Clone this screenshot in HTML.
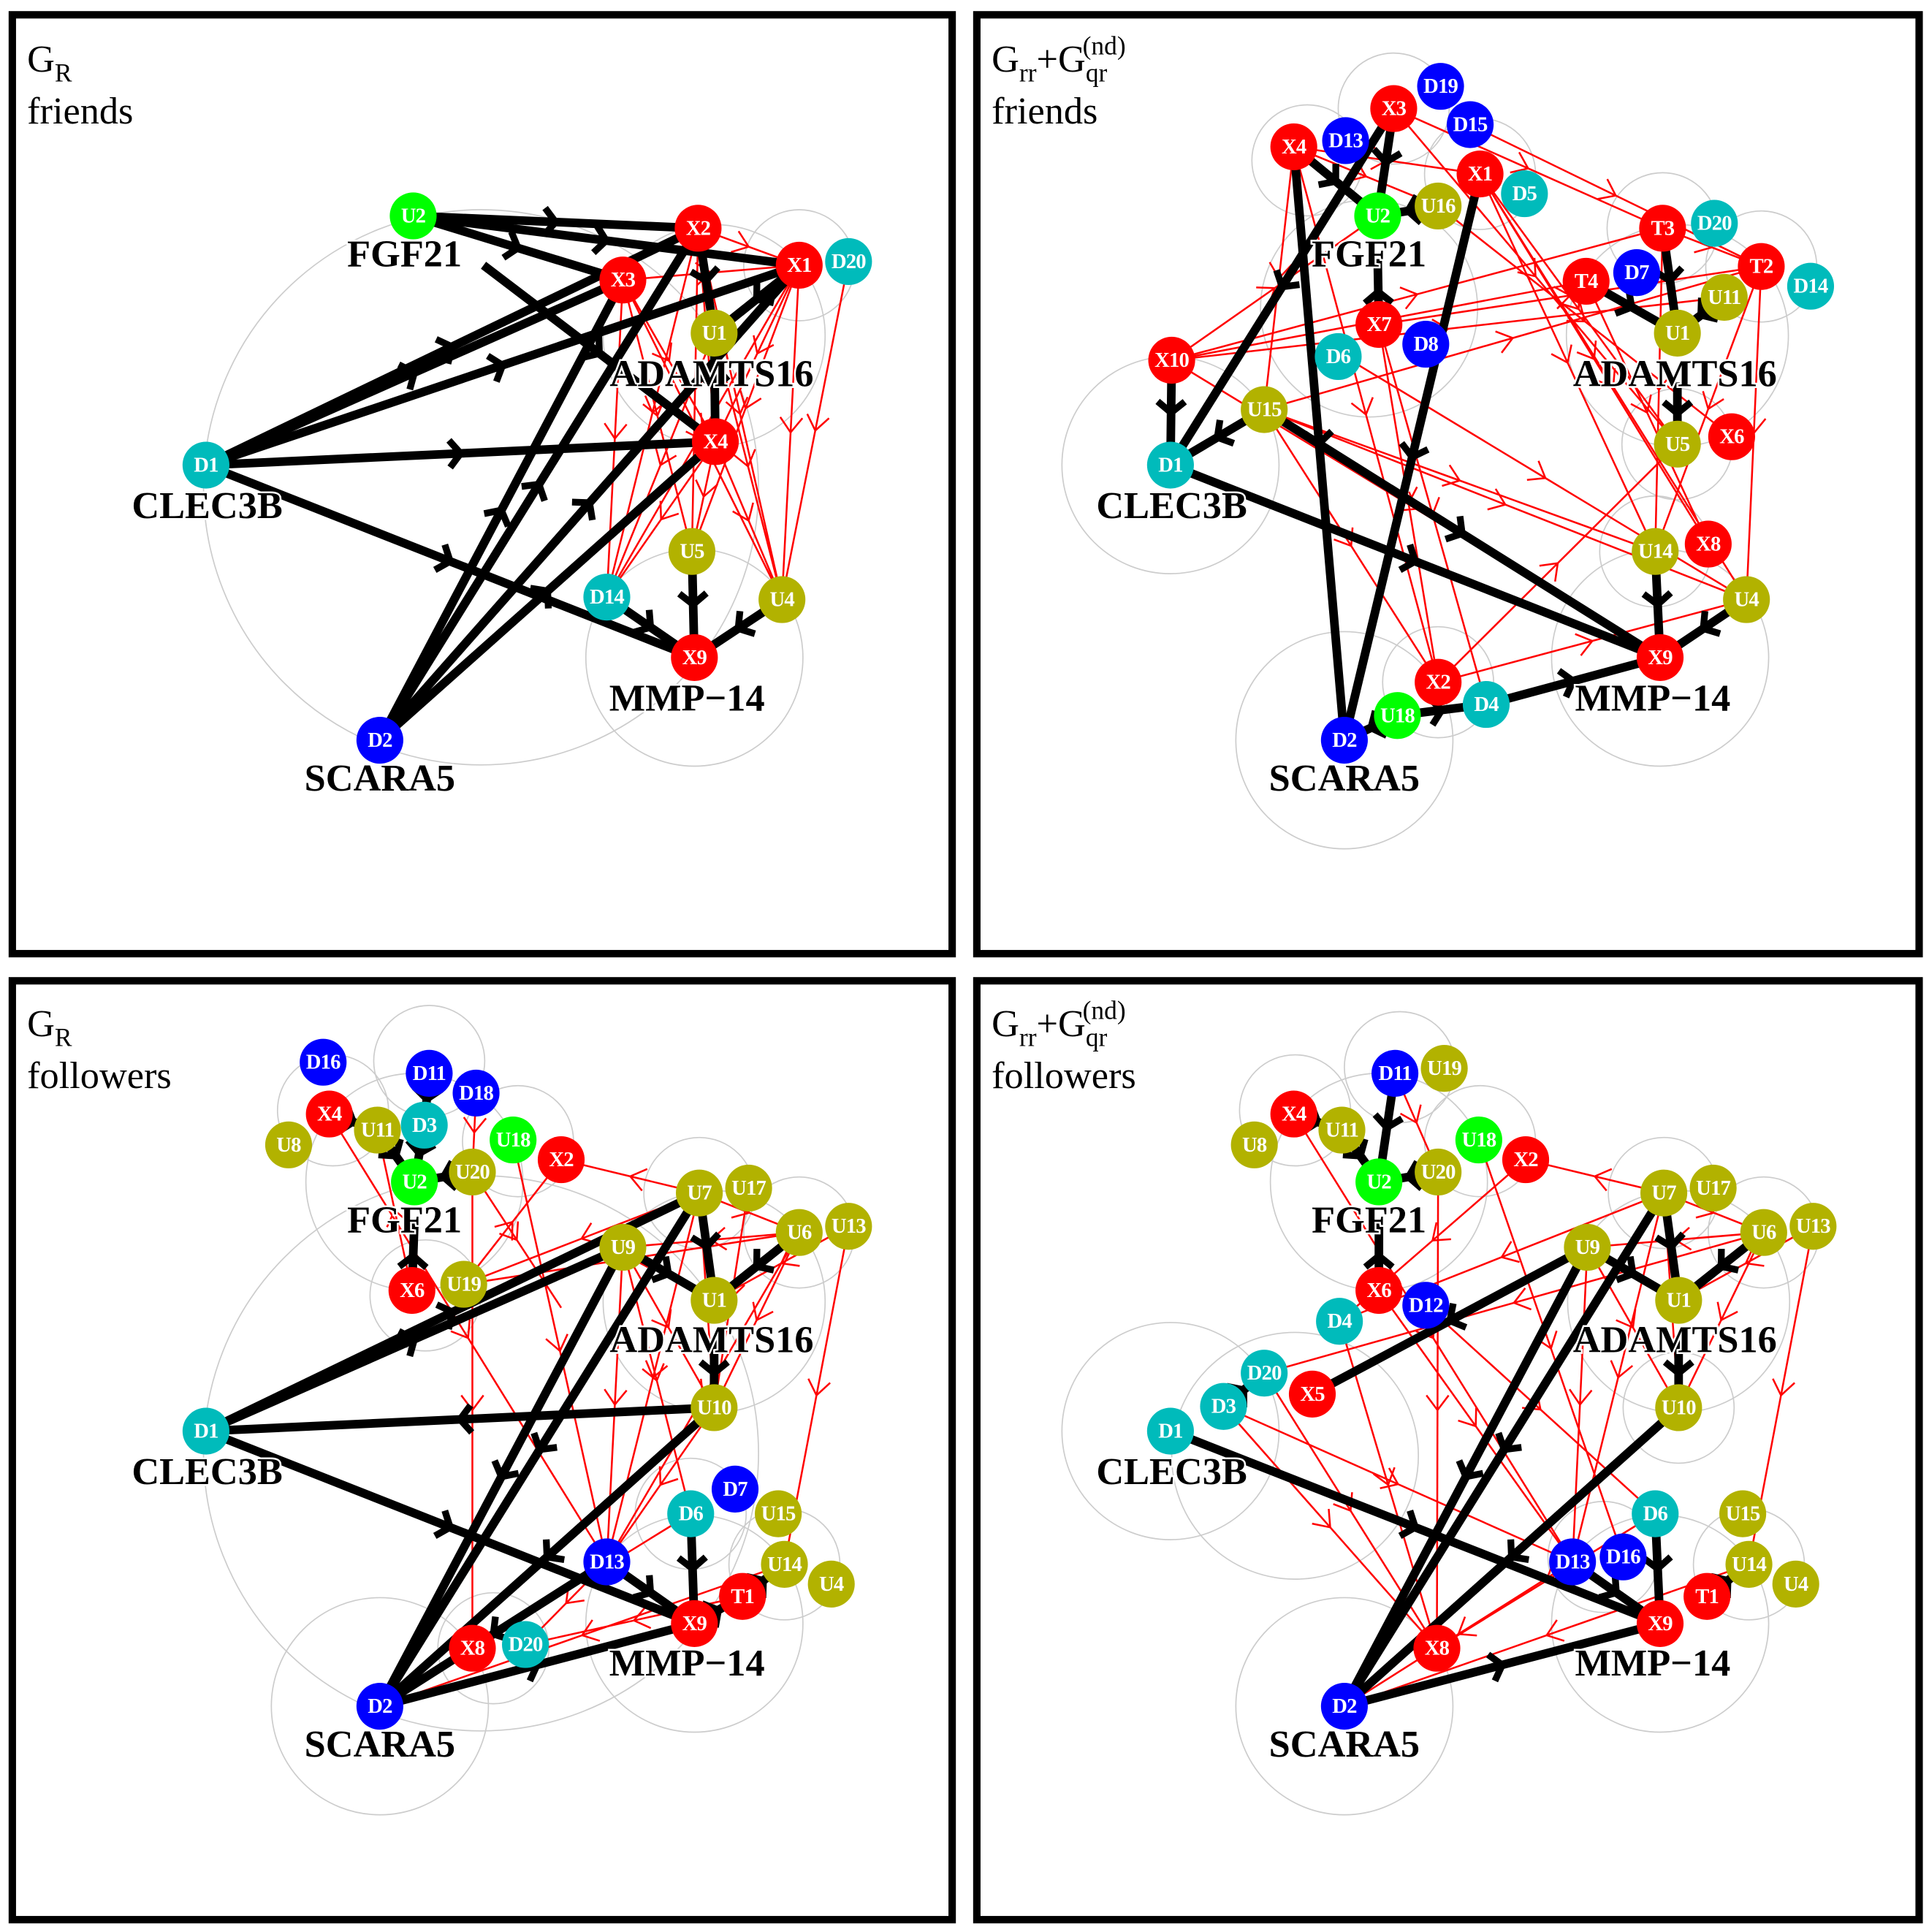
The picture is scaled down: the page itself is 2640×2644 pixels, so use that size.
<!DOCTYPE html>
<html><head><meta charset="utf-8"><style>
html,body{margin:0;padding:0;background:#fff}
svg{display:block}
.n text{font-family:"Liberation Serif",serif;font-weight:bold;fill:#fff;font-size:17px;text-anchor:middle;dominant-baseline:central;letter-spacing:-0.5px}
.g{font-family:"Liberation Serif",serif;font-weight:bold;font-size:31px;text-anchor:middle;fill:#000;stroke:#fff;stroke-width:3;paint-order:stroke}
.t{font-family:"Liberation Serif",serif;font-size:31px;fill:#000}
.b{stroke:#000;stroke-width:7;fill:none;marker-mid:url(#mb)}
.r{stroke:#f00;stroke-width:1.5;fill:none;marker-mid:url(#mr)}
.c{stroke:#ccc;stroke-width:1;fill:none}
</style></head><body>
<svg width="2640" height="2644" viewBox="0 0 1564 1566" preserveAspectRatio="none" xmlns="http://www.w3.org/2000/svg">
<defs>
<marker id="mb" markerUnits="userSpaceOnUse" markerWidth="30" markerHeight="30" refX="0" refY="0" viewBox="-15 -15 30 30" orient="auto"><path d="M-9,-11 L0,0 L-9,11" stroke="#000" stroke-width="5.5" fill="none"/></marker>
<marker id="mr" markerUnits="userSpaceOnUse" markerWidth="30" markerHeight="30" refX="0" refY="0" viewBox="-15 -15 30 30" orient="auto"><path d="M-12,-9 L0,0 L-12,9" stroke="#f00" stroke-width="1.5" fill="none"/></marker>
</defs>
<rect width="1564" height="1566" fill="#fff"/>
<g fill="none" stroke="#000" stroke-width="6">
<rect x="10" y="12" width="762" height="761"/><rect x="792" y="12" width="764" height="761"/>
<rect x="10" y="795" width="762" height="761"/><rect x="792" y="795" width="764" height="761"/>
</g>
<!-- titles -->
<text class="t" x="22" y="58">G<tspan font-size="21" dy="8">R</tspan></text><text class="t" x="22" y="100">friends</text>
<text class="t" x="804" y="58">G<tspan font-size="21" dy="8">rr</tspan><tspan dy="-8">+G</tspan><tspan font-size="21" dy="8">qr</tspan><tspan font-size="21" dx="-20" dy="-22">(nd)</tspan></text><text class="t" x="804" y="100">friends</text>
<text class="t" x="22" y="840">G<tspan font-size="21" dy="8">R</tspan></text><text class="t" x="22" y="882">followers</text>
<text class="t" x="804" y="840">G<tspan font-size="21" dy="8">rr</tspan><tspan dy="-8">+G</tspan><tspan font-size="21" dy="8">qr</tspan><tspan font-size="21" dx="-20" dy="-22">(nd)</tspan></text><text class="t" x="804" y="882">followers</text>

<!-- PANEL 1 -->
<g>
<circle class="c" cx="390" cy="395" r="225"/><circle class="c" cx="563" cy="533" r="88"/><circle class="c" cx="579" cy="272" r="90"/><circle class="c" cx="648" cy="215" r="45"/>
<path class="r" d="M566 185 L648 215"/><path class="r" d="M505 227 L648 215"/>
<path class="r" d="M648 215 L492 484"/><path class="r" d="M648 215 L561 447"/><path class="r" d="M648 215 L634 486"/><path class="r" d="M648 215 L580 358"/>
<path class="r" d="M566 185 L561 447"/><path class="r" d="M566 185 L634 486"/><path class="r" d="M566 185 L492 484"/><path class="r" d="M566 185 L580 358"/>
<path class="r" d="M505 227 L561 447"/><path class="r" d="M505 227 L492 484"/><path class="r" d="M505 227 L634 486"/><path class="r" d="M505 227 L580 358"/>
<path class="r" d="M580 358 L492 484"/><path class="r" d="M580 358 L634 486"/><path class="r" d="M580 358 L561 447"/>
<path class="r" d="M688 212 L634 486"/><path class="r" d="M579 270 L492 484"/><path class="r" d="M579 270 L634 486"/>
<path class="b" d="M335 175 L566 185"/><path class="b" d="M335 175 L648 215"/><path class="b" d="M335 175 L505 227"/><path class="b" d="M392 215 L580 358"/>
<path class="b" d="M167 377 L505 227"/><path class="b" d="M167 377 L566 185"/><path class="b" d="M167 377 L648 215"/><path class="b" d="M167 377 L580 358"/><path class="b" d="M167 377 L563 533"/>
<path class="b" d="M308 600 L505 227"/><path class="b" d="M308 600 L566 185"/><path class="b" d="M308 600 L648 215"/><path class="b" d="M308 600 L580 358"/>
<path class="b" d="M561 447 L563 533"/><path class="b" d="M492 484 L563 533"/><path class="b" d="M634 486 L563 533"/>
<path class="b" d="M566 185 L579 270"/><path class="b" d="M648 215 L579 270"/><path class="b" d="M579 270 L580 358"/>
</g>
<text class="g" x="328" y="216">FGF21</text><text class="g" x="577" y="313">ADAMTS16</text><text class="g" x="168" y="420">CLEC3B</text><text class="g" x="557" y="576">MMP−14</text><text class="g" x="308" y="641">SCARA5</text>
<g class="n">
<circle cx="335" cy="175" r="19" fill="#0f0"/><text x="335" y="175">U2</text>
<circle cx="566" cy="185" r="19" fill="#f00"/><text x="566" y="185">X2</text>
<circle cx="648" cy="215" r="19" fill="#f00"/><text x="648" y="215">X1</text>
<circle cx="688" cy="212" r="19" fill="#0bb"/><text x="688" y="212">D20</text>
<circle cx="505" cy="227" r="19" fill="#f00"/><text x="505" y="227">X3</text>
<circle cx="579" cy="270" r="19" fill="#b2b200"/><text x="579" y="270">U1</text>
<circle cx="167" cy="377" r="19" fill="#0bb"/><text x="167" y="377">D1</text>
<circle cx="580" cy="358" r="19" fill="#f00"/><text x="580" y="358">X4</text>
<circle cx="561" cy="447" r="19" fill="#b2b200"/><text x="561" y="447">U5</text>
<circle cx="492" cy="484" r="19" fill="#0bb"/><text x="492" y="484">D14</text>
<circle cx="634" cy="486" r="19" fill="#b2b200"/><text x="634" y="486">U4</text>
<circle cx="563" cy="533" r="19" fill="#f00"/><text x="563" y="533">X9</text>
<circle cx="308" cy="600" r="19" fill="#00f"/><text x="308" y="600">D2</text>
</g>

<!-- PANEL 2 -->
<g>
<circle class="c" cx="949" cy="377" r="88"/><circle class="c" cx="1090" cy="600" r="88"/><circle class="c" cx="1346" cy="533" r="88"/><circle class="c" cx="1110" cy="250" r="88"/><circle class="c" cx="1360" cy="272" r="90"/><circle class="c" cx="1060" cy="130" r="45"/><circle class="c" cx="1130" cy="88" r="45"/><circle class="c" cx="1200" cy="141" r="45"/><circle class="c" cx="1348" cy="185" r="45"/><circle class="c" cx="1428" cy="216" r="45"/><circle class="c" cx="1360" cy="360" r="45"/><circle class="c" cx="1342" cy="447" r="45"/><circle class="c" cx="1166" cy="553" r="45"/>
<path class="r" d="M1130 88 L1348 185"/><path class="r" d="M1130 88 L1360 360"/><path class="r" d="M1049 119 L1200 141"/><path class="r" d="M1049 119 L1166 167"/><path class="r" d="M1049 119 L1166 553"/><path class="r" d="M1049 119 L1025 332"/>
<path class="r" d="M1192 101 L1428 216"/><path class="r" d="M1200 141 L1360 360"/><path class="r" d="M1200 141 L1385 441"/><path class="r" d="M1200 141 L1342 447"/><path class="r" d="M1200 141 L1416 486"/>
<path class="r" d="M950 292 L1348 185"/><path class="r" d="M950 292 L1286 228"/><path class="r" d="M950 292 L1398 241"/><path class="r" d="M950 292 L1117 175"/><path class="r" d="M950 292 L1346 533"/>
<path class="r" d="M1025 332 L1428 216"/><path class="r" d="M1025 332 L1416 486"/><path class="r" d="M1025 332 L1342 447"/><path class="r" d="M1025 332 L1166 553"/>
<path class="r" d="M1118 263 L1428 216"/><path class="r" d="M1118 263 L1166 553"/><path class="r" d="M1118 263 L1205 571"/>
<path class="r" d="M1166 553 L1360 360"/><path class="r" d="M1166 553 L1416 486"/>
<path class="r" d="M1348 185 L1342 447"/><path class="r" d="M1428 216 L1416 486"/><path class="r" d="M1286 228 L1385 441"/><path class="r" d="M1428 216 L1342 447"/><path class="r" d="M1348 185 L1428 216"/>
<path class="r" d="M1090 289 L1416 486"/><path class="r" d="M1166 167 L1404 354"/>
<path class="b" d="M1049 119 L1090 600"/><path class="b" d="M1200 141 L1090 600"/><path class="b" d="M1130 88 L949 377"/><path class="b" d="M950 292 L949 377"/><path class="b" d="M1025 332 L949 377"/>
<path class="b" d="M949 377 L1346 533"/><path class="b" d="M1025 332 L1346 533"/><path class="b" d="M1049 119 L1117 175"/><path class="b" d="M1130 88 L1117 175"/><path class="b" d="M1166 167 L1117 175"/><path class="b" d="M1118 263 L1117 210"/>
<path class="b" d="M1286 228 L1360 270"/><path class="b" d="M1398 241 L1360 270"/><path class="b" d="M1348 185 L1360 270"/><path class="b" d="M1360 310 L1360 360"/>
<path class="b" d="M1342 447 L1346 533"/><path class="b" d="M1416 486 L1346 533"/><path class="b" d="M1205 571 L1346 533"/><path class="b" d="M1133 580 L1090 600"/><path class="b" d="M1133 580 L1205 571"/>
</g>
<text class="g" x="1110" y="216">FGF21</text><text class="g" x="1358" y="313">ADAMTS16</text><text class="g" x="950" y="420">CLEC3B</text><text class="g" x="1340" y="576">MMP−14</text><text class="g" x="1090" y="641">SCARA5</text>
<g class="n">
<circle cx="1130" cy="88" r="19" fill="#f00"/><text x="1130" y="88">X3</text>
<circle cx="1168" cy="70" r="19" fill="#00f"/><text x="1168" y="70">D19</text>
<circle cx="1192" cy="101" r="19" fill="#00f"/><text x="1192" y="101">D15</text>
<circle cx="1049" cy="119" r="19" fill="#f00"/><text x="1049" y="119">X4</text>
<circle cx="1091" cy="114" r="19" fill="#00f"/><text x="1091" y="114">D13</text>
<circle cx="1200" cy="141" r="19" fill="#f00"/><text x="1200" y="141">X1</text>
<circle cx="1236" cy="157" r="19" fill="#0bb"/><text x="1236" y="157">D5</text>
<circle cx="1117" cy="175" r="19" fill="#0f0"/><text x="1117" y="175">U2</text>
<circle cx="1166" cy="167" r="19" fill="#b2b200"/><text x="1166" y="167">U16</text>
<circle cx="1348" cy="185" r="19" fill="#f00"/><text x="1348" y="185">T3</text>
<circle cx="1390" cy="181" r="19" fill="#0bb"/><text x="1390" y="181">D20</text>
<circle cx="1428" cy="216" r="19" fill="#f00"/><text x="1428" y="216">T2</text>
<circle cx="1468" cy="232" r="19" fill="#0bb"/><text x="1468" y="232">D14</text>
<circle cx="1286" cy="228" r="19" fill="#f00"/><text x="1286" y="228">T4</text>
<circle cx="1327" cy="221" r="19" fill="#00f"/><text x="1327" y="221">D7</text>
<circle cx="1398" cy="241" r="19" fill="#b2b200"/><text x="1398" y="241">U11</text>
<circle cx="1118" cy="263" r="19" fill="#f00"/><text x="1118" y="263">X7</text>
<circle cx="1156" cy="279" r="19" fill="#00f"/><text x="1156" y="279">D8</text>
<circle cx="1360" cy="270" r="19" fill="#b2b200"/><text x="1360" y="270">U1</text>
<circle cx="1085" cy="289" r="19" fill="#0bb"/><text x="1085" y="289">D6</text>
<circle cx="950" cy="292" r="19" fill="#f00"/><text x="950" y="292">X10</text>
<circle cx="1025" cy="332" r="19" fill="#b2b200"/><text x="1025" y="332">U15</text>
<circle cx="1360" cy="360" r="19" fill="#b2b200"/><text x="1360" y="360">U5</text>
<circle cx="1404" cy="354" r="19" fill="#f00"/><text x="1404" y="354">X6</text>
<circle cx="949" cy="377" r="19" fill="#0bb"/><text x="949" y="377">D1</text>
<circle cx="1385" cy="441" r="19" fill="#f00"/><text x="1385" y="441">X8</text>
<circle cx="1342" cy="447" r="19" fill="#b2b200"/><text x="1342" y="447">U14</text>
<circle cx="1416" cy="486" r="19" fill="#b2b200"/><text x="1416" y="486">U4</text>
<circle cx="1346" cy="533" r="19" fill="#f00"/><text x="1346" y="533">X9</text>
<circle cx="1166" cy="553" r="19" fill="#f00"/><text x="1166" y="553">X2</text>
<circle cx="1205" cy="571" r="19" fill="#0bb"/><text x="1205" y="571">D4</text>
<circle cx="1133" cy="580" r="19" fill="#0f0"/><text x="1133" y="580">U18</text>
<circle cx="1090" cy="600" r="19" fill="#00f"/><text x="1090" y="600">D2</text>
</g>

<!-- PANEL 3 -->
<g>
<circle class="c" cx="390" cy="1178" r="225"/><circle class="c" cx="563" cy="1316" r="88"/><circle class="c" cx="579" cy="1055" r="90"/><circle class="c" cx="308" cy="1383" r="88"/><circle class="c" cx="336" cy="958" r="88"/><circle class="c" cx="348" cy="860" r="45"/><circle class="c" cx="270" cy="900" r="45"/><circle class="c" cx="420" cy="925" r="45"/><circle class="c" cx="567" cy="967" r="45"/><circle class="c" cx="648" cy="999" r="45"/><circle class="c" cx="345" cy="1050" r="45"/><circle class="c" cx="560" cy="1227" r="45"/><circle class="c" cx="636" cy="1268" r="45"/><circle class="c" cx="400" cy="1336" r="45"/>
<path class="r" d="M567 967 L455 940"/><path class="r" d="M567 967 L376 1041"/><path class="r" d="M648 999 L376 1041"/><path class="r" d="M648 999 L505 1011"/><path class="r" d="M567 967 L648 999"/><path class="r" d="M688 994 L579 1054"/>
<path class="r" d="M505 1011 L579 1141"/><path class="r" d="M567 967 L579 1141"/><path class="r" d="M648 999 L579 1141"/><path class="r" d="M607 963 L579 1141"/><path class="r" d="M688 994 L636 1268"/>
<path class="r" d="M267 903 L492 1266"/><path class="r" d="M416 924 L492 1266"/><path class="r" d="M383 950 L383 1336"/><path class="r" d="M383 950 L455 1060"/><path class="r" d="M505 1011 L492 1266"/><path class="r" d="M567 967 L492 1266"/><path class="r" d="M579 1141 L492 1266"/>
<path class="r" d="M505 1011 L560 1227"/><path class="r" d="M648 999 L492 1266"/><path class="r" d="M492 1266 L426 1333"/><path class="r" d="M560 1227 L383 1336"/><path class="r" d="M602 1294 L426 1333"/><path class="r" d="M636 1268 L308 1383"/>
<path class="r" d="M376 1041 L455 940"/><path class="r" d="M334 1046 L306 916"/><path class="r" d="M386 886 L383 950"/><path class="r" d="M348 870 L336 958"/>
<path class="b" d="M167 1160 L505 1011"/><path class="b" d="M167 1160 L567 967"/><path class="b" d="M579 1141 L167 1160"/><path class="b" d="M167 1160 L563 1316"/>
<path class="b" d="M505 1011 L308 1383"/><path class="b" d="M567 967 L308 1383"/><path class="b" d="M579 1141 L308 1383"/><path class="b" d="M308 1383 L563 1316"/><path class="b" d="M492 1266 L308 1383"/>
<path class="b" d="M334 1046 L336 990"/><path class="b" d="M306 916 L336 958"/><path class="b" d="M383 950 L336 958"/><path class="b" d="M344 912 L336 958"/><path class="b" d="M348 870 L344 912"/><path class="b" d="M267 903 L306 916"/>
<path class="b" d="M505 1011 L579 1054"/><path class="b" d="M567 967 L579 1054"/><path class="b" d="M648 999 L579 1054"/><path class="b" d="M579 1085 L579 1141"/>
<path class="b" d="M560 1227 L563 1316"/><path class="b" d="M492 1266 L563 1316"/><path class="b" d="M602 1294 L636 1268"/><path class="b" d="M563 1316 L602 1294"/>
</g>
<text class="g" x="328" y="999">FGF21</text><text class="g" x="577" y="1096">ADAMTS16</text><text class="g" x="168" y="1203">CLEC3B</text><text class="g" x="557" y="1358">MMP−14</text><text class="g" x="308" y="1424">SCARA5</text>
<g class="n">
<circle cx="262" cy="861" r="19" fill="#00f"/><text x="262" y="861">D16</text>
<circle cx="348" cy="870" r="19" fill="#00f"/><text x="348" y="870">D11</text>
<circle cx="386" cy="886" r="19" fill="#00f"/><text x="386" y="886">D18</text>
<circle cx="267" cy="903" r="19" fill="#f00"/><text x="267" y="903">X4</text>
<circle cx="234" cy="928" r="19" fill="#b2b200"/><text x="234" y="928">U8</text>
<circle cx="306" cy="916" r="19" fill="#b2b200"/><text x="306" y="916">U11</text>
<circle cx="344" cy="912" r="19" fill="#0bb"/><text x="344" y="912">D3</text>
<circle cx="416" cy="924" r="19" fill="#0f0"/><text x="416" y="924">U18</text>
<circle cx="455" cy="940" r="19" fill="#f00"/><text x="455" y="940">X2</text>
<circle cx="336" cy="958" r="19" fill="#0f0"/><text x="336" y="958">U2</text>
<circle cx="383" cy="950" r="19" fill="#b2b200"/><text x="383" y="950">U20</text>
<circle cx="567" cy="967" r="19" fill="#b2b200"/><text x="567" y="967">U7</text>
<circle cx="607" cy="963" r="19" fill="#b2b200"/><text x="607" y="963">U17</text>
<circle cx="688" cy="994" r="19" fill="#b2b200"/><text x="688" y="994">U13</text>
<circle cx="648" cy="999" r="19" fill="#b2b200"/><text x="648" y="999">U6</text>
<circle cx="505" cy="1011" r="19" fill="#b2b200"/><text x="505" y="1011">U9</text>
<circle cx="334" cy="1046" r="19" fill="#f00"/><text x="334" y="1046">X6</text>
<circle cx="376" cy="1041" r="19" fill="#b2b200"/><text x="376" y="1041">U19</text>
<circle cx="579" cy="1054" r="19" fill="#b2b200"/><text x="579" y="1054">U1</text>
<circle cx="579" cy="1141" r="19" fill="#b2b200"/><text x="579" y="1141">U10</text>
<circle cx="167" cy="1160" r="19" fill="#0bb"/><text x="167" y="1160">D1</text>
<circle cx="596" cy="1207" r="19" fill="#00f"/><text x="596" y="1207">D7</text>
<circle cx="560" cy="1227" r="19" fill="#0bb"/><text x="560" y="1227">D6</text>
<circle cx="631" cy="1227" r="19" fill="#b2b200"/><text x="631" y="1227">U15</text>
<circle cx="492" cy="1266" r="19" fill="#00f"/><text x="492" y="1266">D13</text>
<circle cx="636" cy="1268" r="19" fill="#b2b200"/><text x="636" y="1268">U14</text>
<circle cx="674" cy="1284" r="19" fill="#b2b200"/><text x="674" y="1284">U4</text>
<circle cx="602" cy="1294" r="19" fill="#f00"/><text x="602" y="1294">T1</text>
<circle cx="563" cy="1316" r="19" fill="#f00"/><text x="563" y="1316">X9</text>
<circle cx="383" cy="1336" r="19" fill="#f00"/><text x="383" y="1336">X8</text>
<circle cx="426" cy="1333" r="19" fill="#0bb"/><text x="426" y="1333">D20</text>
<circle cx="308" cy="1383" r="19" fill="#00f"/><text x="308" y="1383">D2</text>
</g>

<!-- PANEL 4 -->
<g>
<circle class="c" cx="949" cy="1160" r="88"/><circle class="c" cx="1090" cy="1383" r="88"/><circle class="c" cx="1346" cy="1316" r="88"/><circle class="c" cx="1118" cy="958" r="88"/><circle class="c" cx="1361" cy="1055" r="90"/><circle class="c" cx="1050" cy="1180" r="100"/><circle class="c" cx="1050" cy="900" r="45"/><circle class="c" cx="1135" cy="865" r="45"/><circle class="c" cx="1200" cy="925" r="45"/><circle class="c" cx="1349" cy="967" r="45"/><circle class="c" cx="1430" cy="999" r="45"/><circle class="c" cx="1361" cy="1141" r="45"/><circle class="c" cx="1418" cy="1268" r="45"/><circle class="c" cx="1300" cy="1262" r="45"/>
<path class="r" d="M1349 967 L1237 940"/><path class="r" d="M1349 967 L1086 1071"/><path class="r" d="M1430 999 L1025 1113"/><path class="r" d="M1430 999 L1287 1011"/><path class="r" d="M1349 967 L1430 999"/><path class="r" d="M1470 994 L1361 1054"/>
<path class="r" d="M1287 1011 L1361 1141"/><path class="r" d="M1349 967 L1361 1141"/><path class="r" d="M1430 999 L1361 1141"/><path class="r" d="M1470 994 L1418 1268"/>
<path class="r" d="M1049 903 L1275 1266"/><path class="r" d="M1199 924 L1316 1262"/><path class="r" d="M1166 950 L1165 1336"/><path class="r" d="M1287 1011 L1275 1266"/><path class="r" d="M1349 967 L1275 1266"/><path class="r" d="M1156 1058 L1342 1227"/>
<path class="r" d="M992 1140 L1275 1266"/><path class="r" d="M992 1140 L1165 1336"/><path class="r" d="M1025 1113 L1165 1336"/><path class="r" d="M1086 1071 L1165 1336"/><path class="r" d="M1118 1046 L1275 1266"/>
<path class="r" d="M1275 1266 L1090 1383"/><path class="r" d="M1342 1227 L1165 1336"/><path class="r" d="M1418 1268 L1090 1383"/><path class="r" d="M1131 870 L1166 950"/><path class="r" d="M1237 940 L1086 1071"/>
<path class="b" d="M1287 1011 L1090 1383"/><path class="b" d="M1349 967 L1090 1383"/><path class="b" d="M1361 1141 L1090 1383"/><path class="b" d="M1090 1383 L1346 1316"/><path class="b" d="M949 1160 L1346 1316"/>
<path class="b" d="M1287 1011 L1064 1130"/><path class="b" d="M1118 1046 L1118 990"/><path class="b" d="M1088 916 L1118 958"/><path class="b" d="M1166 950 L1118 958"/><path class="b" d="M1131 870 L1118 958"/><path class="b" d="M1049 903 L1088 916"/><path class="b" d="M992 1140 L1025 1113"/>
<path class="b" d="M1287 1011 L1361 1054"/><path class="b" d="M1349 967 L1361 1054"/><path class="b" d="M1430 999 L1361 1054"/><path class="b" d="M1361 1085 L1361 1141"/>
<path class="b" d="M1342 1227 L1346 1316"/><path class="b" d="M1275 1266 L1346 1316"/><path class="b" d="M1384 1294 L1418 1268"/>
</g>
<text class="g" x="1110" y="999">FGF21</text><text class="g" x="1358" y="1096">ADAMTS16</text><text class="g" x="950" y="1203">CLEC3B</text><text class="g" x="1340" y="1358">MMP−14</text><text class="g" x="1090" y="1424">SCARA5</text>
<g class="n">
<circle cx="1131" cy="870" r="19" fill="#00f"/><text x="1131" y="870">D11</text>
<circle cx="1171" cy="866" r="19" fill="#b2b200"/><text x="1171" y="866">U19</text>
<circle cx="1049" cy="903" r="19" fill="#f00"/><text x="1049" y="903">X4</text>
<circle cx="1088" cy="916" r="19" fill="#b2b200"/><text x="1088" y="916">U11</text>
<circle cx="1017" cy="928" r="19" fill="#b2b200"/><text x="1017" y="928">U8</text>
<circle cx="1199" cy="924" r="19" fill="#0f0"/><text x="1199" y="924">U18</text>
<circle cx="1237" cy="940" r="19" fill="#f00"/><text x="1237" y="940">X2</text>
<circle cx="1118" cy="958" r="19" fill="#0f0"/><text x="1118" y="958">U2</text>
<circle cx="1166" cy="950" r="19" fill="#b2b200"/><text x="1166" y="950">U20</text>
<circle cx="1349" cy="967" r="19" fill="#b2b200"/><text x="1349" y="967">U7</text>
<circle cx="1389" cy="963" r="19" fill="#b2b200"/><text x="1389" y="963">U17</text>
<circle cx="1470" cy="994" r="19" fill="#b2b200"/><text x="1470" y="994">U13</text>
<circle cx="1430" cy="999" r="19" fill="#b2b200"/><text x="1430" y="999">U6</text>
<circle cx="1287" cy="1011" r="19" fill="#b2b200"/><text x="1287" y="1011">U9</text>
<circle cx="1118" cy="1046" r="19" fill="#f00"/><text x="1118" y="1046">X6</text>
<circle cx="1156" cy="1058" r="19" fill="#00f"/><text x="1156" y="1058">D12</text>
<circle cx="1361" cy="1054" r="19" fill="#b2b200"/><text x="1361" y="1054">U1</text>
<circle cx="1086" cy="1071" r="19" fill="#0bb"/><text x="1086" y="1071">D4</text>
<circle cx="1025" cy="1113" r="19" fill="#0bb"/><text x="1025" y="1113">D20</text>
<circle cx="1064" cy="1130" r="19" fill="#f00"/><text x="1064" y="1130">X5</text>
<circle cx="992" cy="1140" r="19" fill="#0bb"/><text x="992" y="1140">D3</text>
<circle cx="949" cy="1160" r="19" fill="#0bb"/><text x="949" y="1160">D1</text>
<circle cx="1361" cy="1141" r="19" fill="#b2b200"/><text x="1361" y="1141">U10</text>
<circle cx="1342" cy="1227" r="19" fill="#0bb"/><text x="1342" y="1227">D6</text>
<circle cx="1413" cy="1227" r="19" fill="#b2b200"/><text x="1413" y="1227">U15</text>
<circle cx="1275" cy="1266" r="19" fill="#00f"/><text x="1275" y="1266">D13</text>
<circle cx="1316" cy="1262" r="19" fill="#00f"/><text x="1316" y="1262">D16</text>
<circle cx="1418" cy="1268" r="19" fill="#b2b200"/><text x="1418" y="1268">U14</text>
<circle cx="1456" cy="1284" r="19" fill="#b2b200"/><text x="1456" y="1284">U4</text>
<circle cx="1384" cy="1294" r="19" fill="#f00"/><text x="1384" y="1294">T1</text>
<circle cx="1346" cy="1316" r="19" fill="#f00"/><text x="1346" y="1316">X9</text>
<circle cx="1165" cy="1336" r="19" fill="#f00"/><text x="1165" y="1336">X8</text>
<circle cx="1090" cy="1383" r="19" fill="#00f"/><text x="1090" y="1383">D2</text>
</g>
</svg>
<script>
document.querySelectorAll('path.b,path.r').forEach(function(p){
  var m=p.getAttribute('d').match(/-?[\d.]+/g).map(Number);
  if(m.length===4){var mx=(m[0]+m[2])/2,my=(m[1]+m[3])/2;
  p.setAttribute('d','M'+m[0]+' '+m[1]+' L'+mx+' '+my+' L'+m[2]+' '+m[3]);}
});
</script>
</body></html>
